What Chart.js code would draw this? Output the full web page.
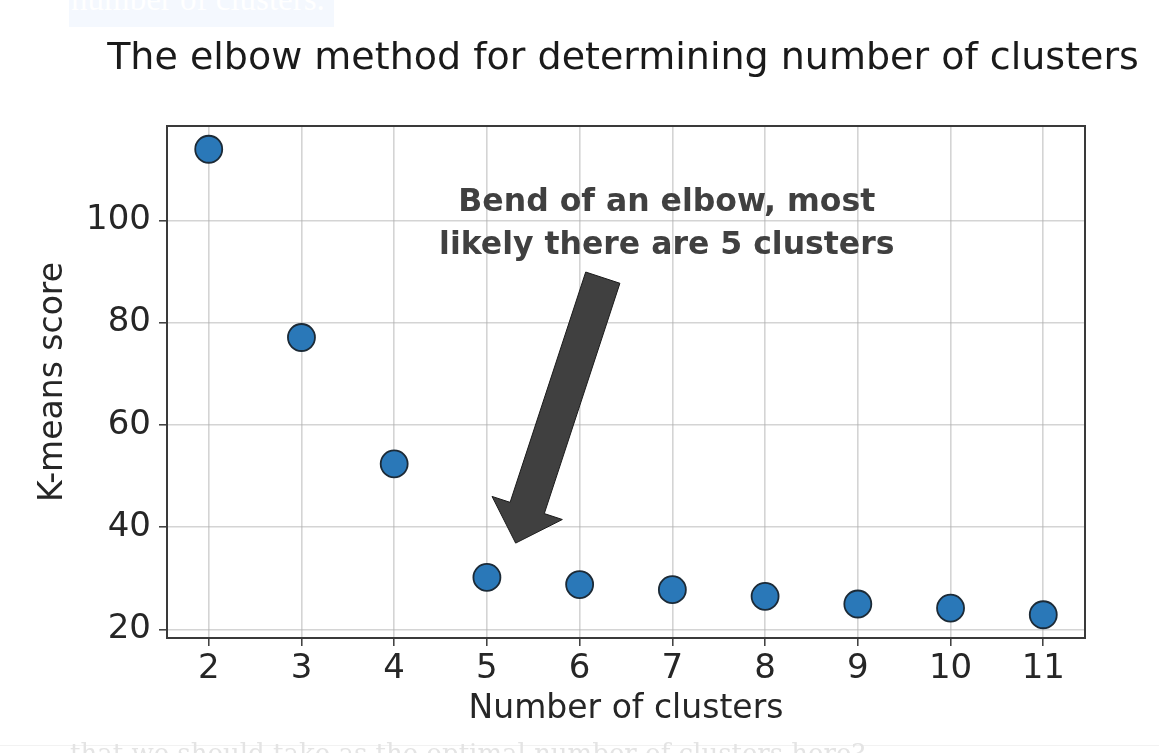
<!DOCTYPE html>
<html><head><meta charset="utf-8">
<script src="https://cdn.jsdelivr.net/npm/chart.js@4/dist/chart.umd.min.js"></script>
<style>
html,body{margin:0;padding:0;background:#fff;width:1159px;height:753px;overflow:hidden;position:relative;}
#wrap{position:absolute;left:0;top:0;width:1159px;height:753px;}
#topnote{position:absolute;left:69px;top:0;height:27px;width:265px;background:#f4f8fe;overflow:hidden;}
#topnote span{position:absolute;left:2px;top:-21px;color:#fff;font-family:"Liberation Serif",serif;font-size:33px;line-height:40px;white-space:nowrap;}
#botline{position:absolute;left:0;top:745px;width:1159px;height:1px;background:#f2f2f2;}
#botnote{position:absolute;left:70px;top:738px;color:#e4e4e4;font-family:"DejaVu Serif",serif;font-size:26px;line-height:30px;white-space:nowrap;}
</style></head>
<body>
<div id="wrap"><canvas id="c" width="1159" height="753"></canvas></div>
<div id="topnote"><span>number of clusters.</span></div>
<div id="botline"></div>
<div id="botnote">that we should take as the optimal number of clusters here?</div>
<script>
const clusters = [2, 3, 4, 5, 6, 7, 8, 9, 10, 11];
const scores = [113.9, 77.1, 52.4, 30.2, 28.8, 27.8, 26.5, 25.0, 24.2, 22.9];
const xTicks = [2, 3, 4, 5, 6, 7, 8, 9, 10, 11];
const yTicks = [20, 40, 60, 80, 100];
const titleText = "The elbow method for determining number of clusters";
const annotationLines = ["Bend of an elbow, most", "likely there are 5 clusters"];
// arrow in data coordinates: tail -> tip
const arrowTail = [6.25, 88.8];
const arrowTip = [5.31, 36.9];

const pts = clusters.map((c, i) => ({x: c, y: scores[i]}));
const FONT = '"DejaVu Sans", sans-serif';

const decor = {
  id: 'decor',
  afterDraw(chart) {
    const {ctx, chartArea: a, scales: {x, y}} = chart;
    ctx.save();
    // frame
    ctx.strokeStyle = '#3a3a3a';
    ctx.lineWidth = 2;
    ctx.strokeRect(a.left, a.top, a.right - a.left, a.bottom - a.top);
    // title
    ctx.fillStyle = '#1a1a1a';
    ctx.font = '38px ' + FONT;
    ctx.textAlign = 'center';
    ctx.textBaseline = 'middle';
    ctx.fillText(titleText, (a.left + a.right) / 2 - 3, a.top - 67);
    // annotation text
    ctx.fillStyle = '#404040';
    ctx.font = 'bold 31.5px "Comic Sans MS", "DejaVu Sans", sans-serif';
    const tx = x.getPixelForValue(6.94);
    ctx.fillText(annotationLines[0], tx, y.getPixelForValue(103.4));
    ctx.fillText(annotationLines[1], tx, y.getPixelForValue(95.1));
    // arrow
    const x0 = x.getPixelForValue(arrowTail[0]), y0 = y.getPixelForValue(arrowTail[1]);
    const x1 = x.getPixelForValue(arrowTip[0]), y1 = y.getPixelForValue(arrowTip[1]);
    const dx = x1 - x0, dy = y1 - y0, L = Math.hypot(dx, dy);
    const ux = dx / L, uy = dy / L, nx = -uy, ny = ux;
    const sw = 18, hw = 37, hl = 37;
    const bx = x1 - ux * hl, by = y1 - uy * hl;
    ctx.beginPath();
    ctx.moveTo(x0 + nx * sw, y0 + ny * sw);
    ctx.lineTo(bx + nx * sw, by + ny * sw);
    ctx.lineTo(bx + nx * hw, by + ny * hw);
    ctx.lineTo(x1, y1);
    ctx.lineTo(bx - nx * hw, by - ny * hw);
    ctx.lineTo(bx - nx * sw, by - ny * sw);
    ctx.lineTo(x0 - nx * sw, y0 - ny * sw);
    ctx.closePath();
    ctx.fillStyle = '#404040';
    ctx.fill();
    ctx.strokeStyle = '#1a1a1a';
    ctx.lineWidth = 1;
    ctx.stroke();
    ctx.restore();
  }
};

new Chart(document.getElementById('c'), {
  type: 'scatter',
  data: {
    datasets: [{
      data: pts,
      backgroundColor: '#2a78b8',
      borderColor: '#1c2a36',
      borderWidth: 1.8,
      pointRadius: 13.5,
      pointHoverRadius: 13.5
    }]
  },
  options: {
    responsive: false,
    animation: false,
    events: [],
    layout: {padding: {top: 126, right: 74, bottom: 0, left: 0}},
    plugins: {legend: {display: false}, tooltip: {enabled: false}, title: {display: false}},
    scales: {
      x: {
        type: 'linear', min: 1.55, max: 11.45,
        afterBuildTicks: s => { s.ticks = xTicks.map(v => ({value: v})); },
        afterFit: s => { s.height = 115; },
        grid: {color: 'rgba(176,176,176,0.55)', lineWidth: 1.6, tickLength: 8, tickColor: '#3a3a3a', tickWidth: 1.5},
        border: {display: true, color: '#3a3a3a', width: 2},
        ticks: {font: {family: FONT, size: 34}, color: '#262626', padding: 3, maxRotation: 0, autoSkip: false},
        title: {display: true, text: 'Number of clusters', font: {family: FONT, size: 33}, color: '#262626', padding: {top: 0, bottom: 24}}
      },
      y: {
        type: 'linear', min: 18.35, max: 118.45,
        afterBuildTicks: s => { s.ticks = yTicks.map(v => ({value: v})); },
        afterFit: s => { s.width = 167; },
        grid: {color: 'rgba(176,176,176,0.55)', lineWidth: 1.6, tickLength: 8, tickColor: '#3a3a3a', tickWidth: 1.5},
        border: {display: true, color: '#3a3a3a', width: 2},
        ticks: {font: {family: FONT, size: 34}, color: '#262626', padding: 8, autoSkip: false},
        title: {display: true, text: 'K-means score', font: {family: FONT, size: 33}, color: '#262626', padding: {top: 34, bottom: 0}}
      }
    }
  },
  plugins: [decor]
});
</script>
</body></html>
